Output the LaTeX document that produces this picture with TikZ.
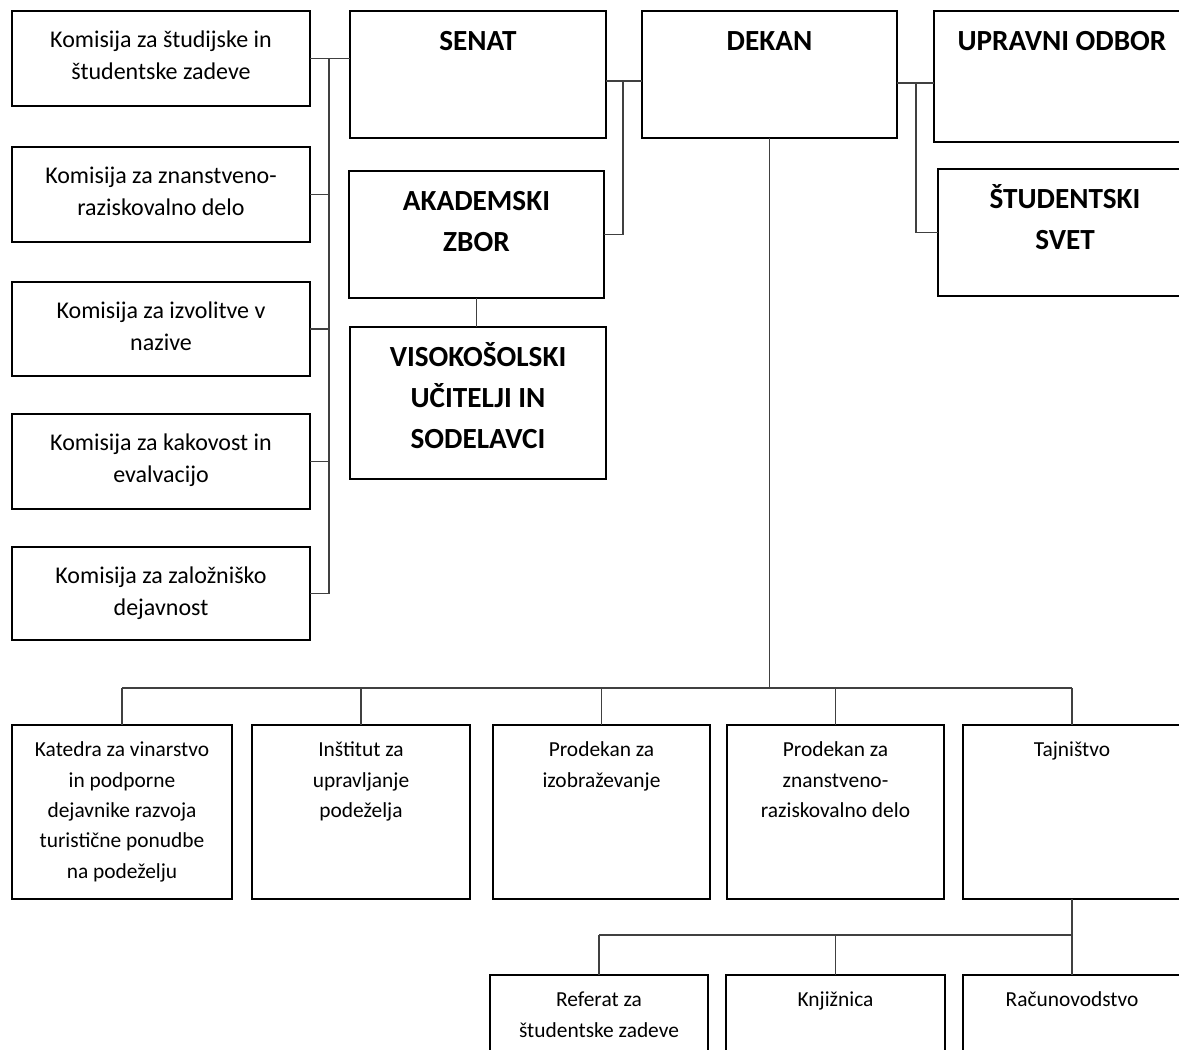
\documentclass[tikz,border=0pt]{standalone}
\usepackage{fontspec}
\setmainfont{Carlito}
\usetikzlibrary{positioning}

\begin{document}
\begin{tikzpicture}[x=0.5pt, y=-0.5pt,
  box/.style 2 args={draw, line width=1.3pt, anchor=north west, outer sep=0pt,
    inner sep=0pt, minimum width=#1*0.5pt, minimum height=#2*0.5pt},
  komtxt/.style={anchor=base, yshift=-18pt, align=flush center, inner sep=0pt,
    text width=140pt, font=\fontsize{12}{16}\selectfont},
  headtxt/.style={anchor=base, yshift=-19.7pt, align=flush center, inner sep=0pt,
    text width=120pt, font=\fontsize{14.6}{20.5}\selectfont\bfseries},
  unittxt/.style={anchor=base, yshift=-15.8pt, align=flush center, inner sep=0pt,
    text width=100pt, font=\fontsize{10.7}{15.2}\selectfont},
  link/.style={line width=0.6pt, black!75}]
  \useasboundingbox (0,0) rectangle (1179,1050);
  \clip (0,0) rectangle (1179,1050);

  % --- Komisije (left column) ---
  \node[box={298}{95}, label={[komtxt]north:{Komisija za študijske in\\študentske zadeve}}] (kom1) at (12,11) {};
  \node[box={298}{95}, label={[komtxt]north:{Komisija za znanstveno-\\raziskovalno delo}}] (kom2) at (12,147) {};
  \node[box={298}{94}, label={[komtxt]north:{Komisija za izvolitve v\\nazive}}] (kom3) at (12,282) {};
  \node[box={298}{95}, label={[komtxt]north:{Komisija za kakovost in\\evalvacijo}}] (kom4) at (12,414) {};
  \node[box={298}{93}, label={[komtxt]north:{Komisija za založniško\\dejavnost}}] (kom5) at (12,547) {};

  % --- Organi ---
  \node[box={256}{127}, label={[headtxt]north:SENAT}] (senat) at (350,11) {};
  \node[box={255}{127}, label={[headtxt]north:{AKADEMSKI\\ZBOR}}] (zbor) at (349,171) {};
  \node[box={256}{152}, label={[headtxt]north:{VISOKOŠOLSKI\\UČITELJI IN\\SODELAVCI}}] (ucitelji) at (350,327) {};
  \node[box={255}{127}, label={[headtxt]north:DEKAN}] (dekan) at (642,11) {};
  \node[box={256}{131}, label={[headtxt]north:{UPRAVNI ODBOR}}] (odbor) at (934,11) {};
  \node[box={254}{127}, label={[headtxt]north:{ŠTUDENTSKI\\SVET}}] (svet) at (938,169) {};

  % --- Enote pod dekanom ---
  \node[box={220}{174}, label={[unittxt]north:{Katedra za vinarstvo\\in podporne\\dejavnike razvoja\\turistične ponudbe\\na podeželju}}] (katedra) at (12,725) {};
  \node[box={218}{174}, label={[unittxt]north:{Inštitut za\\upravljanje\\podeželja}}] (institut) at (252,725) {};
  \node[box={217}{174}, label={[unittxt]north:{Prodekan za\\izobraževanje}}] (prodizo) at (493,725) {};
  \node[box={217}{174}, label={[unittxt]north:{Prodekan za\\znanstveno-\\raziskovalno delo}}] (prodznan) at (727,725) {};
  \node[box={218}{174}, label={[unittxt]north:Tajništvo}] (tajnistvo) at (963,725) {};

  % --- Tajništvo ---
  \node[box={218}{130}, label={[unittxt]north:{Referat za\\študentske zadeve}}] (referat) at (490,975) {};
  \node[box={219}{130}, label={[unittxt]north:Knjižnica}] (knjiznica) at (726,975) {};
  \node[box={218}{130}, label={[unittxt]north:Računovodstvo}] (racun) at (963,975) {};

  % --- Bus points ---
  \coordinate (kbus) at (329,0);
  \coordinate (sbus) at (623,81);
  \coordinate (dbus) at (916,83);
  \coordinate (ebus) at (0,688);
  \coordinate (tbus) at (0,935);

  % --- Connectors ---
  \draw[link] (kom1.east) -- (kom1.east -| senat.west);
  \draw[link] (kom1.east -| kbus) -- (kom5.east -| kbus);
  \foreach \k in {kom2,kom3,kom4,kom5}
    \draw[link] (\k.east) -- (\k.east -| kbus);

  \draw[link] (senat.east |- sbus) -- (dekan.west |- sbus);
  \draw[link] (sbus) -- (sbus |- zbor.east) -- (zbor.east);
  \draw[link] (zbor.south) -- (ucitelji.north -| zbor.south);

  \draw[link] (dekan.east |- dbus) -- (odbor.west |- dbus);
  \draw[link] (dbus) -- (dbus |- svet.west) -- (svet.west);

  \draw[link] (dekan.south) -- (dekan.south |- ebus);
  \draw[link] (katedra.north |- ebus) -- (tajnistvo.north |- ebus);
  \foreach \u in {katedra,institut,prodizo,prodznan,tajnistvo}
    \draw[link] (\u.north |- ebus) -- (\u.north);

  \draw[link] (tajnistvo.south) -- (tajnistvo.south |- tbus);
  \draw[link] (referat.north |- tbus) -- (tajnistvo.south |- tbus);
  \foreach \u in {referat,knjiznica,racun}
    \draw[link] (\u.north |- tbus) -- (\u.north);
\end{tikzpicture}
\end{document}
